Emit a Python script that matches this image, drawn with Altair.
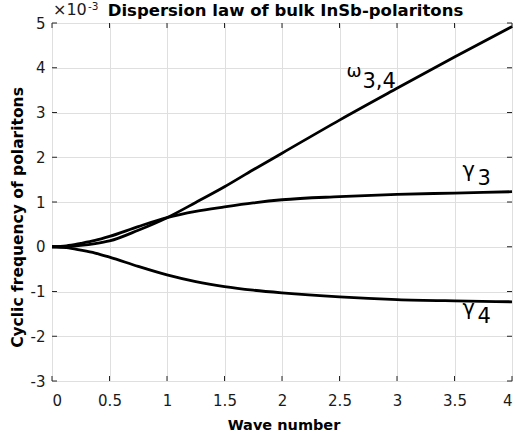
import altair as alt
import pandas as pd

# ---- data (frequency in units of 1e-3) ----
k = [0, 0.125, 0.25, 0.375, 0.5, 0.75, 1.0, 1.25, 1.5, 1.75, 2.0, 2.5, 3.0, 3.5, 4.0]
omega34 = [0, 0.005, 0.03, 0.07, 0.13, 0.37, 0.65, 0.99, 1.34, 1.72, 2.09, 2.83, 3.54, 4.24, 4.92]
gamma3 = [0, 0.02, 0.075, 0.14, 0.23, 0.45, 0.65, 0.79, 0.89, 0.98, 1.05, 1.12, 1.17, 1.20, 1.23]
gamma4 = [0, -0.02, -0.075, -0.14, -0.23, -0.44, -0.63, -0.78, -0.89, -0.97, -1.03, -1.12, -1.18, -1.21, -1.23]

x_ticks = [0, 0.5, 1, 1.5, 2, 2.5, 3, 3.5, 4]
y_ticks = [-3, -2, -1, 0, 1, 2, 3, 4, 5]

# curve annotations: (k, v, text, font size)
ann_k = [2.56, 2.70, 3.57, 3.70, 3.57, 3.70]
ann_v = [3.80, 3.54, 1.56, 1.38, -1.53, -1.71]
ann_text = ["ω", "3,4", "γ", "3", "γ", "4"]
ann_size = [18, 21, 21, 21, 21, 21]

TITLE = "Dispersion law of bulk InSb-polaritons"

W, H = 460, 358
FONT = "DejaVu Sans"

rows = []
for name, vals in [("omega34", omega34), ("gamma3", gamma3), ("gamma4", gamma4)]:
    for kk, vv in zip(k, vals):
        rows.append({"k": kk, "v": vv, "series": name})
df = pd.DataFrame(rows)

xscale = alt.Scale(domain=[0, 4], nice=False, zero=False)
yscale = alt.Scale(domain=[-3, 5], nice=False, zero=False)

x_axis = alt.Axis(values=x_ticks, labelExpr="toString(datum.value)", grid=True,
                  gridColor="#dfdfdf", ticks=False, tickSize=0, domain=False,
                  labelFont=FONT, labelFontSize=15, labelColor="#1a1a1a", labelPadding=12,
                  title="Wave number", titleFont=FONT, titleFontSize=14.5, titleFontWeight="bold",
                  titleColor="#000000", titleX=231.5, titleY=48, titleBaseline="alphabetic",
                  titleAlign="center")
y_axis = alt.Axis(values=y_ticks, labelExpr="toString(datum.value)", grid=True,
                  gridColor="#dfdfdf", ticks=False, tickSize=0, domain=False,
                  labelFont=FONT, labelFontSize=15, labelColor="#1a1a1a", labelPadding=7,
                  title="Cyclic frequency of polaritons", titleFont=FONT, titleFontSize=15.5,
                  titleFontWeight="bold", titleColor="#000000", titleAngle=270,
                  titleX=-30, titleY=194, titleAlign="center", titleBaseline="alphabetic")

lines = alt.Chart(df).mark_line(color="black", strokeWidth=2.8, interpolate="monotone").encode(
    x=alt.X("k:Q", scale=xscale, axis=x_axis),
    y=alt.Y("v:Q", scale=yscale, axis=y_axis),
    detail="series:N",
)

xt = pd.DataFrame({"k": x_ticks})
yt = pd.DataFrame({"v": y_ticks})
TC = "#262626"
tick_bottom = alt.Chart(xt).mark_rule(color=TC, strokeWidth=1).encode(
    x=alt.X("k:Q", scale=xscale), y=alt.value(H), y2=alt.value(H - 5))
tick_top = alt.Chart(xt).mark_rule(color=TC, strokeWidth=1).encode(
    x=alt.X("k:Q", scale=xscale), y=alt.value(0), y2=alt.value(5))
tick_left = alt.Chart(yt).mark_rule(color=TC, strokeWidth=1).encode(
    y=alt.Y("v:Q", scale=yscale), x=alt.value(0), x2=alt.value(5))
tick_right = alt.Chart(yt).mark_rule(color=TC, strokeWidth=1).encode(
    y=alt.Y("v:Q", scale=yscale), x=alt.value(W), x2=alt.value(W - 5))

ann = pd.DataFrame({"k": ann_k, "v": ann_v, "text": ann_text, "fs": ann_size})
labels = alt.Chart(ann).mark_text(align="left", baseline="alphabetic", font=FONT, color="black").encode(
    x=alt.X("k:Q", scale=xscale), y=alt.Y("v:Q", scale=yscale),
    text="text:N", size=alt.Size("fs:Q", scale=None, legend=None))

title = alt.Chart(pd.DataFrame({"t": [TITLE]})).mark_text(
    align="center", baseline="alphabetic", font=FONT, fontSize=16.5, fontWeight="bold",
    color="black").encode(x=alt.value(W / 2 + 3.5), y=alt.value(-7), text="t:N")

exp_base = alt.Chart(pd.DataFrame({"t": ["×10"]})).mark_text(
    align="left", baseline="alphabetic", font=FONT, fontSize=16, color="#1a1a1a").encode(
    x=alt.value(1), y=alt.value(-8), text="t:N")
exp_pow = alt.Chart(pd.DataFrame({"t": ["-3"]})).mark_text(
    align="left", baseline="alphabetic", font=FONT, fontSize=10.5, color="#1a1a1a").encode(
    x=alt.value(36), y=alt.value(-13.5), text="t:N")

chart = alt.layer(tick_bottom, tick_top, tick_left, tick_right, lines, labels,
                  title, exp_base, exp_pow).properties(
    width=W, height=H,
    autosize=alt.AutoSizeParams(type="none"),
    padding={"left": 52, "top": 23, "right": 4, "bottom": 58},
).configure_view(stroke=TC, strokeWidth=1).configure(background="white")

chart.save("out.html", embed_options={"renderer": "svg", "actions": False})
